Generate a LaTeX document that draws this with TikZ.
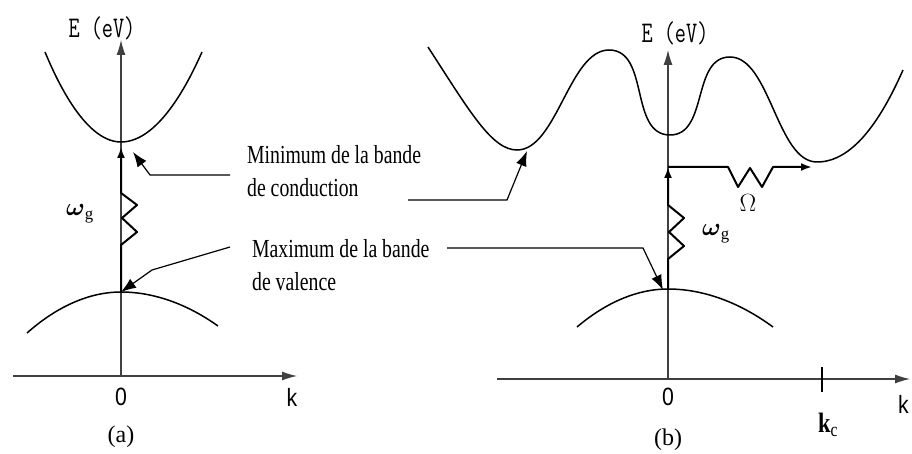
\documentclass[tikz,border=0pt]{standalone}
\usepackage{fontspec}
\usepackage{amsmath}
\setmainfont{Liberation Serif}
\newfontfamily\arialfont{Liberation Sans}
\usetikzlibrary{arrows.meta}

\tikzset{
  axis/.style={draw=black!75, line width=1.1pt, -{Latex[length=15pt,width=9pt]}},
  band/.style={line width=1.5pt},
  photon/.style={line width=2pt, line join=round, -{Latex[length=11pt,width=8pt]}},
  pointer/.style={line width=1.2pt, -{Latex[length=15pt,width=11pt]}},
  note/.style={font=\fontsize{26}{33}\selectfont, align=left, xscale=0.76, transform shape, inner sep=0pt},
  unit/.style={font=\ttfamily\fontsize{30}{30}\selectfont, xscale=0.72, transform shape, inner sep=0pt},
  tick/.style={font=\arialfont\fontsize{25}{25}\selectfont, xscale=0.85, transform shape, inner sep=0pt},
  caption/.style={font=\fontsize{24}{24}\selectfont, inner sep=0pt},
  symb/.style={font=\fontsize{24}{24}\selectfont, inner sep=0pt}
}

\begin{document}
\begin{tikzpicture}[x=1pt,y=-1pt]
\useasboundingbox (0,0) rectangle (912,454);

% ---- panel (a)
\coordinate (ka0) at (13,376);
\coordinate (ka) at (297,376);
\coordinate (oa) at (121,376);
\coordinate (ea) at (121,40);
\coordinate (cmina) at (121,142);
\coordinate (tipa) at (121,147);
\coordinate (vmaxa) at (121,292);

\draw[axis] (ka0) -- (ka);
\draw[axis] (oa) -- (ea);
\draw[band] (45,52) parabola bend (cmina) (202,52);
\draw[band] (27,333) parabola bend (vmaxa) (218,326);
\draw[photon] (vmaxa) -- ++(0,-47) -- ++(16,-13) -- ++(-15,-14) -- ++(15,-13) -- ++(-16,-12) -- (tipa);

\node[unit] (Ea) at (102,28) {E (eV)};
\node[tick] (zeroa) at (121,397) {0};
\node[tick] (klabela) at (292,397) {k};
\node[caption] (capa) at (121,437) {(a)};
\node[symb] (wga) at (80,214) {$\boldsymbol{\omega}_{\mathrm{g}}$};

% ---- panel (b)
\coordinate (kb0) at (497,379);
\coordinate (kb) at (910,379);
\coordinate (ob) at (668,379);
\coordinate (eb) at (668,50);
\coordinate (vmaxb) at (668,289);
\coordinate (tipb) at (668,167);
\coordinate (cminl) at (527,151);
\coordinate (cminr) at (812,167);

\draw[axis] (kb0) -- (kb);
\draw[axis] (ob) -- (eb);
\draw[line width=1.2pt] (822,367) -- (822,392);
\draw[band] (577,327) parabola bend (vmaxb) (773,327);
\draw[band] (428,47) .. controls (470,112) and (492,150) .. (517,150)
  to[out=0,in=180,looseness=0.75] (609,50)
  to[out=0,in=180] (670,135)
  to[out=0,in=180] (730,57)
  to[out=0,in=180,looseness=0.75] (817,162)
  .. controls (852,162) and (880,122) .. (903,70);
\draw[photon] (vmaxb) -- ++(0,-30) -- ++(16,-13) -- ++(-15,-14) -- ++(15,-14) -- ++(-16,-13) -- (tipb);
\draw[photon] (tipb) -- ++(60,0) -- ++(10,20) -- ++(12,-19) -- ++(12,19) -- ++(11,-20) -- (cminr);

\node[unit] (Eb) at (675,33) {E (eV)};
\node[tick] (zerob) at (668,397) {0};
\node[tick, anchor=west] (klabelb) at (898,404) {k};
\node[caption] (capb) at (668,440) {(b)};
\node[symb] (wgb) at (716,234) {$\boldsymbol{\omega}_{\mathrm{g}}$};
\node[symb] (Om) at (748,203) {$\Omega$};
\node[symb, font=\fontsize{28}{28}\selectfont, xscale=0.8, transform shape] (kc) at (828,425) {$\mathbf{k}_{\mathrm{c}}$};

% ---- labels and pointers
\node[note, anchor=west] (minnote) at (247,171) {Minimum de la bande\\de conduction};
\node[note, anchor=west] (maxnote) at (252,265) {Maximum de la bande\\de valence};

\coordinate (pa1) at (230,175);
\coordinate (pa2) at (230,247);
\coordinate (pb1) at (408,200);
\coordinate (pb2) at (447,248);
\draw[pointer] (pa1) -- (150,175) -- (133,152);
\draw[pointer] (pa2) -- (152,270) -- (vmaxa);
\draw[pointer] (pb1) -- (507,200) -- (cminl);
\draw[pointer] (pb2) -- (643,248) -- (663,290);
\end{tikzpicture}
\end{document}
